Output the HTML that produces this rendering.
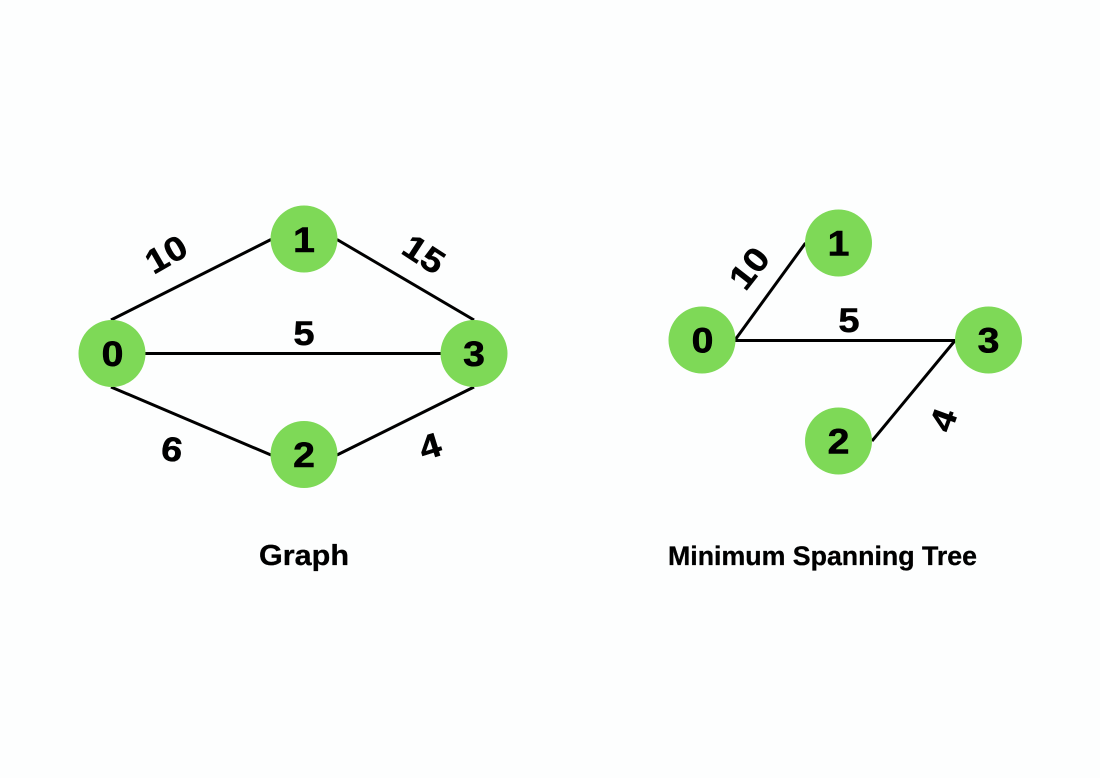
<!DOCTYPE html>
<html>
<head>
<meta charset="utf-8">
<style>
html,body{margin:0;padding:0;background:#fdfefe;}
svg{display:block;}
text{font-family:"Liberation Sans",sans-serif;font-weight:bold;fill:#000;text-anchor:middle;}
.n{font-size:35px;stroke:#000;stroke-width:.6px;}
.e{font-size:34px;stroke:#000;stroke-width:.5px;}
.t{font-size:29px;stroke:#000;stroke-width:.3px;}
line{stroke:#000;stroke-width:3px;stroke-linecap:butt;}
circle{fill:#7ed957;}
</style>
</head>
<body>
<svg width="1100" height="778" viewBox="0 0 1100 778" xmlns="http://www.w3.org/2000/svg">
<rect width="1100" height="778" fill="#fdfefe"/>

<!-- Graph edges -->
<line x1="111" y1="320" x2="271" y2="239.500"/>
<line x1="337" y1="239.500" x2="474" y2="320"/>
<line x1="145" y1="353.500" x2="441" y2="353.500"/>
<line x1="111" y1="387" x2="271" y2="455"/>
<line x1="337" y1="455" x2="474" y2="387"/>

<circle cx="112" cy="353.500" r="33.500"/>
<circle cx="304" cy="239" r="33.500"/>
<circle cx="474" cy="353.500" r="33.500"/>
<circle cx="304" cy="454.500" r="33.500"/>

<text class="n" transform="translate(112.500,366) scale(1.12,1)">0</text>
<text class="n" transform="translate(304,252) scale(1.12,1)">1</text>
<text class="n" transform="translate(474,366) scale(1.12,1)">3</text>
<text class="n" transform="translate(304,467) scale(1.12,1)">2</text>

<text class="e" transform="translate(166,254) rotate(-30) scale(1.12,1)" y="12">10</text>
<text class="e" transform="translate(424,254) rotate(33) scale(1.12,1)" y="12">15</text>
<text class="e" transform="translate(304,345) scale(1.12,1)">5</text>
<text class="e" transform="translate(172,449) rotate(8) scale(1.12,1)" y="12">6</text>
<text class="e" transform="translate(430,446) rotate(-17) scale(1.12,1)" y="12">4</text>

<!-- MST edges -->
<line x1="735" y1="340" x2="805.500" y2="243"/>
<line x1="735" y1="340.500" x2="955.500" y2="340.500"/>
<line x1="955.500" y1="340" x2="872" y2="441"/>

<circle cx="702" cy="340" r="33.500"/>
<circle cx="838.500" cy="243" r="33.500"/>
<circle cx="988.500" cy="340" r="33.500"/>
<circle cx="838.500" cy="441" r="33.500"/>

<text class="n" transform="translate(702.500,352.500) scale(1.12,1)">0</text>
<text class="n" transform="translate(838.500,255.500) scale(1.12,1)">1</text>
<text class="n" transform="translate(988.500,352.500) scale(1.12,1)">3</text>
<text class="n" transform="translate(838.500,453.500) scale(1.12,1)">2</text>

<text class="e" transform="translate(749,268) rotate(-52) scale(1.12,1)" y="12">10</text>
<text class="e" transform="translate(849,332) scale(1.12,1)">5</text>
<text class="e" transform="translate(943,420) rotate(-70) scale(1.12,1)" y="12">4</text>

<!-- Titles -->
<text class="t" x="304" y="565" textLength="90" lengthAdjust="spacingAndGlyphs">Graph</text>
<text class="t" style="font-size:27px" x="822.500" y="565" textLength="309" lengthAdjust="spacingAndGlyphs">Minimum Spanning Tree</text>
</svg>
</body>
</html>
